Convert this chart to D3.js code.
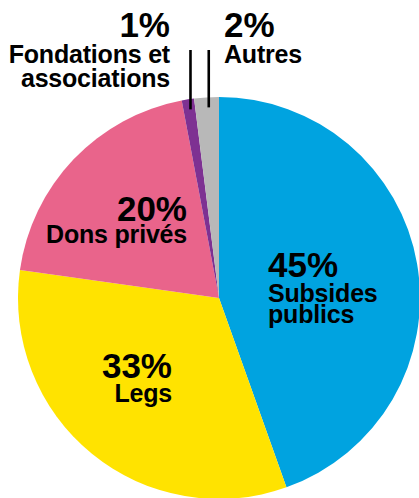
<!DOCTYPE html>
<html>
<head>
<meta charset="utf-8">
<script src="https://cdn.jsdelivr.net/npm/d3@7"></script>
<style>
  html, body { margin: 0; padding: 0; background: #fff; }
  svg { display: block; }
  text { font-family: "Liberation Sans", Arial, sans-serif; font-weight: bold; fill: #000; }
</style>
</head>
<body>
<div id="chart"></div>
<script>
// Data
const categories = ["Subsides publics", "Legs", "Dons privés", "Fondations et associations", "Autres"];
const values = [45, 33, 20, 1, 2];
const pctLabels = ["45%", "33%", "20%", "1%", "2%"];
const colors = ["#00A3E0", "#FFE300", "#E9648B", "#7E3192", "#B8B8B8"];

// Chart variables
const w = 419, h = 498;
const cx = 219, cy = 298;
const radius = 201;

const svg = d3.select("#chart")
    .append("svg")
    .attr("width", w)
    .attr("height", h);

const pie = d3.pie().sort(null).value(d => d)(values);
const arc = d3.arc().innerRadius(0).outerRadius(radius);

const g = svg.append("g").attr("transform", "translate(" + cx + "," + cy + ")");

g.selectAll("path")
    .data(pie)
    .enter()
    .append("path")
    .attr("d", arc)
    .attr("fill", (d, i) => colors[i]);

// label layout (relative to pie center): pct baseline position, anchor, name lines + line gaps
const layout = [
  { x: 49, y: -21, anchor: "start", lines: ["Subsides", "publics"], dy: [25, 21] },
  { x: -47, y: 80, anchor: "end", lines: ["Legs"], dy: [24] },
  { x: -32, y: -77, anchor: "end", lines: ["Dons privés"], dy: [22] },
  { x: -49, y: -261, anchor: "end", lines: ["Fondations et", "associations"], dy: [26, 24] },
  { x: 5, y: -261, anchor: "start", lines: ["Autres"], dy: [26] }
];

layout.forEach((l, i) => {
  const t = g.append("text")
      .attr("x", l.x)
      .attr("y", l.y)
      .attr("text-anchor", l.anchor);
  t.append("tspan")
      .attr("x", l.x)
      .style("font-size", "35px")
      .text(pctLabels[i]);
  l.lines.forEach((line, j) => {
    t.append("tspan")
        .attr("x", l.x)
        .attr("dy", l.dy[j])
        .style("font-size", "25px")
        .style("letter-spacing", "-0.2px")
        .text(line);
  });
});

// leader lines for the small slices
const leaderArc = d3.arc().innerRadius(radius - 4).outerRadius(radius - 4);
[3, 4].forEach(i => {
  const c = leaderArc.centroid(pie[i]);
  g.append("line")
      .attr("x1", c[0] + 2)
      .attr("x2", c[0] + 2)
      .attr("y1", c[1] + 6)
      .attr("y2", -248)
      .attr("stroke", "#000")
      .attr("stroke-width", 2.6);
});
</script>
</body>
</html>
